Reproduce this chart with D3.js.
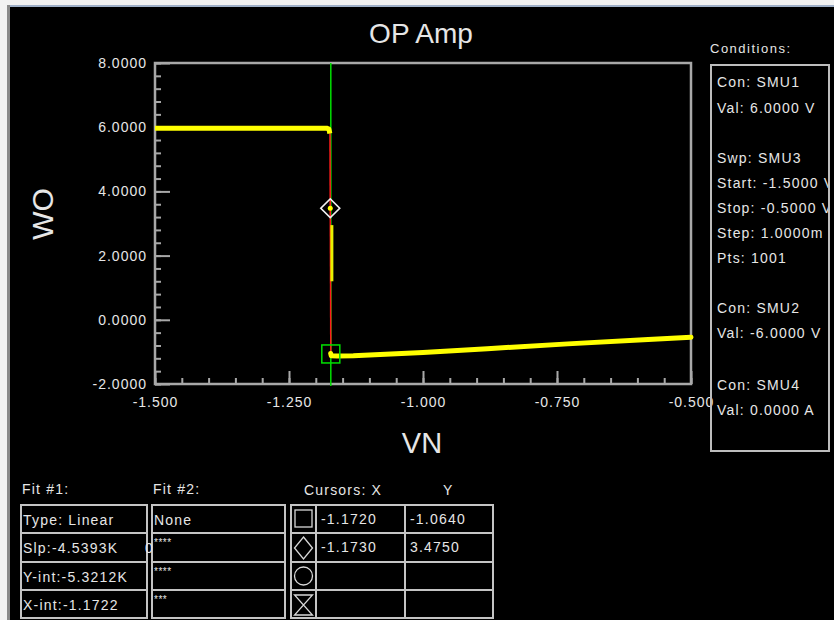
<!DOCTYPE html>
<meta charset="utf-8">
<head>
  <title>OP Amp</title>
</head>
<style>
body { margin: 0; background: #000; }
svg text { font-family: "Liberation Sans", Arial, sans-serif; fill: #e6e6e6; }
.small { font-size: 14px; letter-spacing: 1.2px; }
</style>
<body>
<svg width="834" height="620"></svg>
<script src="https://cdnjs.cloudflare.com/ajax/libs/d3/7.8.5/d3.min.js"></script>
<script>
var upperVN = [-1.500, -1.400, -1.300, -1.200, -1.180, -1.1755, -1.1738];
var upperVO = [5.97, 5.97, 5.97, 5.97, 5.97, 5.94, 5.80];
var midVN = [-1.1700, -1.1700];
var midVO = [2.95, 1.20];
var lowerVN = [-1.1722, -1.1712, -1.160, -1.130, -1.000, -0.880, -0.730, -0.580, -0.500];
var lowerVO = [-1.05, -1.12, -1.13, -1.12, -1.02, -0.90, -0.75, -0.61, -0.54];

// linear fit line (Fit #1) end points
var fitVN = [-1.1736, -1.1720];
var fitVO = [5.95, -1.10];

// cursors
var cursorX = [-1.1720, -1.1730];
var cursorY = [-1.0640, 3.4750];

var xTicks = [-1.5, -1.25, -1.0, -0.75, -0.5];
var yTicks = [-2, 0, 2, 4, 6, 8];

var conditions = ["Con: SMU1", "Val: 6.0000 V", "", "Swp: SMU3", "Start: -1.5000 V",
  "Stop: -0.5000 V", "Step: 1.0000m V", "Pts: 1001", "", "Con: SMU2", "Val: -6.0000 V", "", "Con: SMU4", "Val: 0.0000 A"];
var condBaselines = [87, 113, 0, 163, 188, 213, 238, 263, 0, 313, 338, 0, 390, 415];

var fit1 = ["Type: Linear", "Slp:-4.5393K", "Y-int:-5.3212K", "X-int:-1.1722"];
var fit2 = ["None", "****", "****", "***"];
var curX = ["-1.1720", "-1.1730", "", ""];
var curY = ["-1.0640", "3.4750", "", ""];

var svg = d3.select("svg");
svg.append("rect").attr("width", 834).attr("height", 620).attr("fill", "#000");

// window border bits
svg.append("rect").attr("x", 0).attr("y", 0).attr("width", 834).attr("height", 5).attr("fill", "#f2f2f2");
svg.append("rect").attr("x", 0).attr("y", 5).attr("width", 834).attr("height", 2).attr("fill", "#9fb0c8");
svg.append("rect").attr("x", 0).attr("y", 0).attr("width", 7).attr("height", 620).attr("fill", "#f2f2f2");
svg.append("rect").attr("x", 7).attr("y", 5).attr("width", 3).attr("height", 615).attr("fill", "#8a8a8a");

var pL = 155, pR = 691, pT = 63, pB = 384;
var x = d3.scaleLinear().domain([-1.5, -0.5]).range([pL, pR]);
var y = d3.scaleLinear().domain([-2, 8]).range([pB, pT]);

svg.append("text").attr("x", 421).attr("y", 43).attr("text-anchor", "middle")
  .style("font-size", "28px").text("OP Amp");

// axes
var gray = "#a8a8a8";
var yMinor = d3.range(0, 26).map(function(i) { return -2 + i * 0.4; });
var xMinor = d3.range(0, 21).map(function(i) { return -1.5 + i * 0.05; });

var gy = svg.append("g").attr("transform", "translate(" + pL + ",0)")
  .call(d3.axisLeft(y).tickValues(yMinor).tickSize(-6).tickFormat(""));
var gy2 = svg.append("g").attr("transform", "translate(" + pL + ",0)")
  .call(d3.axisLeft(y).tickValues(yTicks).tickSize(-15).tickPadding(8)
    .tickFormat(function(d) { return d.toFixed(4); }));
var gx = svg.append("g").attr("transform", "translate(0," + pB + ")")
  .call(d3.axisBottom(x).tickValues(xMinor).tickSize(-6).tickFormat(""));
var gx2 = svg.append("g").attr("transform", "translate(0," + pB + ")")
  .call(d3.axisBottom(x).tickValues(xTicks).tickSize(-13).tickPadding(10)
    .tickFormat(function(d) { return d.toFixed(3); }));

[gy, gy2, gx, gx2].forEach(function(g) {
  g.select(".domain").remove();
  g.selectAll(".tick line").attr("stroke", gray).attr("stroke-width", 2);
  g.selectAll(".tick text").attr("fill", "#e6e6e6")
    .style("font-family", '"Liberation Sans", Arial, sans-serif')
    .style("font-size", "14px").style("letter-spacing", "1px");
});
gx2.selectAll(".tick text").attr("dy", "0.9em");

svg.append("rect").attr("x", pL).attr("y", pT).attr("width", pR - pL).attr("height", pB - pT)
  .attr("fill", "none").attr("stroke", gray).attr("stroke-width", 2.5);

svg.append("text").attr("transform", "translate(53,214) rotate(-90)").attr("text-anchor", "middle")
  .style("font-size", "30px").text("WO");
svg.append("text").attr("x", 422).attr("y", 453).attr("text-anchor", "middle")
  .style("font-size", "29px").text("VN");

// cursor line (square cursor)
svg.append("line").attr("x1", x(cursorX[0])).attr("x2", x(cursorX[0]))
  .attr("y1", pT).attr("y2", pB + 2).attr("stroke", "#00e000").attr("stroke-width", 1.5);

// fit line
var line = d3.line().x(function(d) { return x(d[0]); }).y(function(d) { return y(d[1]); });
svg.append("path").datum(d3.zip(fitVN, fitVO)).attr("d", line)
  .attr("stroke", "#ff1a1a").attr("stroke-width", 1.5).attr("fill", "none");

// data
svg.append("path").datum(d3.zip(upperVN, upperVO)).attr("d", line)
  .attr("stroke", "#ffff00").attr("stroke-width", 5).attr("fill", "none").attr("stroke-linejoin", "round");
svg.append("path").datum(d3.zip(midVN, midVO)).attr("d", line)
  .attr("stroke", "#e8f000").attr("stroke-width", 3).attr("fill", "none");
svg.append("path").datum(d3.zip(lowerVN, lowerVO)).attr("d", line)
  .attr("stroke", "#ffff00").attr("stroke-width", 5).attr("fill", "none").attr("stroke-linejoin", "round").attr("stroke-linecap", "round");

// square cursor
var sx = x(cursorX[0]), sy = y(cursorY[0]);
svg.append("rect").attr("x", sx - 9).attr("y", sy - 9).attr("width", 18).attr("height", 18)
  .attr("fill", "none").attr("stroke", "#00e000").attr("stroke-width", 1.5);
// diamond cursor
var dx = x(cursorX[1]), dy = y(cursorY[1]);
svg.append("circle").attr("cx", dx).attr("cy", dy).attr("r", 2.5).attr("fill", "#ffff00");
svg.append("path").attr("d", d3.symbol().type(d3.symbolSquare).size(180)())
  .attr("transform", "translate(" + dx + "," + dy + ") rotate(45)")
  .attr("fill", "none").attr("stroke", "#f0f0f0").attr("stroke-width", 1.6);

// conditions panel
svg.append("text").attr("x", 710).attr("y", 53).style("font-size", "13px")
  .style("letter-spacing", "1.5px").text("Conditions:");
svg.append("clipPath").attr("id", "condclip").append("rect")
  .attr("x", 711).attr("y", 65).attr("width", 117).attr("height", 386);
svg.append("rect").attr("x", 711).attr("y", 65).attr("width", 118).attr("height", 386)
  .attr("fill", "none").attr("stroke", "#bdbdbd").attr("stroke-width", 2);
svg.append("g").attr("clip-path", "url(#condclip)").selectAll("text")
  .data(conditions).join("text").attr("class", "small")
  .attr("x", 717).attr("y", function(d, i) { return condBaselines[i]; })
  .text(function(d) { return d; });

// tables
var rowTops = [505, 533, 562, 590];
function table(x0, x1) {
  svg.append("rect").attr("x", x0).attr("y", rowTops[0]).attr("width", x1 - x0).attr("height", 618 - rowTops[0])
    .attr("fill", "none").attr("stroke", "#c4c4c4").attr("stroke-width", 2);
  rowTops.slice(1).forEach(function(t) {
    svg.append("line").attr("x1", x0).attr("x2", x1).attr("y1", t).attr("y2", t)
      .attr("stroke", "#c4c4c4").attr("stroke-width", 2);
  });
}
table(21, 147);
table(152, 285);
table(291, 493);
[316, 405].forEach(function(cx) {
  svg.append("line").attr("x1", cx).attr("x2", cx).attr("y1", rowTops[0]).attr("y2", 618)
    .attr("stroke", "#c4c4c4").attr("stroke-width", 2);
});

svg.append("text").attr("class", "small").attr("x", 22).attr("y", 494).text("Fit #1:");
svg.append("text").attr("class", "small").attr("x", 153).attr("y", 494).text("Fit #2:");
svg.append("text").attr("class", "small").attr("x", 304).attr("y", 495).text("Cursors: X");
svg.append("text").attr("class", "small").attr("x", 443).attr("y", 495).text("Y");

svg.selectAll(".f1").data(fit1).join("text").attr("class", "small")
  .attr("x", 23).attr("y", function(d, i) { return rowTops[i] + 20; }).text(function(d) { return d; });
svg.append("text").attr("class", "small").attr("x", 145).attr("y", rowTops[1] + 20).text("0");
svg.append("text").attr("class", "small").attr("x", 154).attr("y", rowTops[0] + 20).text(fit2[0]);
svg.selectAll(".f2").data(fit2.slice(1)).join("text")
  .attr("x", 154).attr("y", function(d, i) { return rowTops[i + 1] + 13; })
  .style("font-size", "10px").style("letter-spacing", "0.5px").text(function(d) { return d; });

svg.selectAll(".cx").data(curX).join("text").attr("class", "small")
  .attr("x", 321).attr("y", function(d, i) { return rowTops[i] + 19; }).text(function(d) { return d; });
svg.selectAll(".cy").data(curY).join("text").attr("class", "small")
  .attr("x", 410).attr("y", function(d, i) { return rowTops[i] + 19; }).text(function(d) { return d; });

// cursor symbols
var symC = "#d8d8d8", scx = 303.5;
svg.append("rect").attr("x", scx - 8.5).attr("y", 510).attr("width", 17).attr("height", 17)
  .attr("fill", "none").attr("stroke", symC).attr("stroke-width", 1.3);
svg.append("path").attr("d", "M" + scx + ",537 L" + (scx + 9) + ",548 L" + scx + ",559 L" + (scx - 9) + ",548 Z")
  .attr("fill", "none").attr("stroke", symC).attr("stroke-width", 1.3);
svg.append("circle").attr("cx", scx).attr("cy", 576).attr("r", 9)
  .attr("fill", "none").attr("stroke", symC).attr("stroke-width", 1.3);
svg.append("path").attr("d", "M" + (scx - 9) + ",595 L" + (scx + 9) + ",595 L" + (scx - 9) + ",615 L" + (scx + 9) + ",615 Z")
  .attr("fill", "none").attr("stroke", symC).attr("stroke-width", 1.3);
</script>
</body>
</html>
